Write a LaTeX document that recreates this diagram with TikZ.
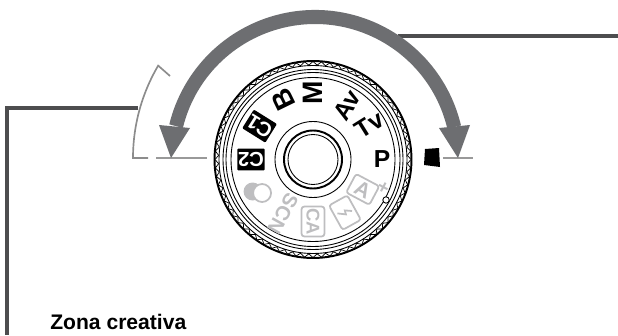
\documentclass[tikz,border=0pt]{standalone}
\usepackage{fontspec}
\setmainfont{Liberation Sans}
\definecolor{arrowgray}{RGB}{109,110,113}
\definecolor{leadgray}{RGB}{77,77,79}
\definecolor{palegray}{RGB}{190,190,192}
\tikzset{
  leadline/.style={line width=1.9pt, leadgray},
  markline/.style={line width=0.7pt, gray!80},
  dialtext/.style={inner sep=0pt, font=\fontsize{14}{14}\bfseries},
  dialkey/.style={fill=black, text=white, rounded corners=0.6pt, inner sep=0pt, minimum width=15.5pt, minimum height=12.5pt, font=\fontsize{11.5}{11.5}\bfseries},
  autotext/.style={inner sep=0pt, text=palegray, font=\fontsize{11.5}{11.5}\bfseries},
  autobox/.style={draw=palegray, line width=1pt, rounded corners=1.5pt}
}

\begin{document}
\begin{tikzpicture}[x=0.02cm, y=0.02cm]
    \useasboundingbox (0,0) rectangle (618,335);

    % Draw the two leader lines
    \coordinate (leftend) at (138,227);
    \coordinate (leftcorner) at (7,227);
    \coordinate (leftfoot) at (7,0);
    \coordinate (rightstart) at (398,299);
    \coordinate (rightend) at (618,299);
    \draw[leadline] (leftend) -- (leftcorner) -- (leftfoot);
    \draw[leadline] (rightstart) -- (rightend);

    % Add bracket on the left of the arrow
    \draw[line width=0.95pt, gray!90] (148,177) -- (133,177) arc[start angle=180, end angle=149.5, radius=182] -- (170,259);
    % Add the short marks under the arrow tips
    \draw[markline] (156,177) -- (207,177);
    \draw[markline] (443,177) -- (473,177);

    % Draw the big double arrow
    \draw[line width=8pt, arrowgray] (315,175) ++(13.3:143) arc[start angle=13.3, end angle=166.3, radius=143];
    \fill[arrowgray] (171,177) -- (159,210) -- (190,207) -- cycle;
    \fill[arrowgray] (458,177) -- (439,207) -- (470,210) -- cycle;

    % Add the black square
    \fill[black] (425,186) -- (439,187) -- (440,168) -- (424,170) -- cycle;

    % Add label at the bottom
    \node[anchor=base west, inner sep=0pt, font=\fontsize{12}{14}\bfseries] (zona) at (50,6) {Zona creativa};

    \begin{scope}[shift={(313,175.5)}]
      % Draw the outer rings of the dial
      \draw[line width=1.1pt] (0,0) circle (98.5);
      \draw[line width=0.5pt] (0,0) circle (94);
      \draw[line width=0.5pt] (0,0) circle (90);
      \draw[line width=0.5pt] (0,0) circle (87);
      \draw[line width=0.5pt] (0,0) circle (82);
      % Add the knurled edge
      \foreach \a in {0,5,...,355} {
        \draw[line width=0.4pt] (\a:98) -- (\a+2.5:94.5) -- (\a+5:98);
      }
      % Draw the centre button
      \draw[line width=0.5pt] (0,0) circle (38);
      \draw[line width=1.1pt] (0,0) circle (29);
      \draw[line width=0.5pt] (0,0) circle (25);

      % Add the creative zone labels
      \foreach \lab/\ang/\rad in {P/0/69, Tv/32/66, Av/58/64} {
        \node[dialtext, rotate=\ang] (mode\lab) at (\ang:\rad) {\lab};
      }
      \node[dialtext, rotate=90, font=\fontsize{16}{16}\bfseries] (modeM) at (90:67) {M};
      \node[dialtext, rotate=116, font=\fontsize{16}{16}\bfseries] (modeB) at (116:67) {B};
      \node[dialkey, rotate=148] (modeCone) at (148:63) {C1};
      \node[dialkey, rotate=180] (modeCtwo) at (180:62) {C2};

      % Add the pale labels of the basic zone
      \fill[palegray] (210:64) ++(-5,0) circle (9);
      \draw[palegray, fill=white, line width=1pt] (210:64) ++(4.5,-1.5) circle (9);
      \node[autotext, rotate=241] (modeScn) at (241:62) {SCN};
      \node[autotext, autobox, rotate=270, minimum width=17pt, minimum height=13pt, font=\fontsize{10.5}{10.5}\bfseries] (modeCa) at (270:62) {CA};

      % Draw the flash-off icon
      \begin{scope}[shift={(301:62)}, rotate=299]
        \draw[autobox] (-14,-10.5) rectangle (14,10.5);
        \draw[palegray, line width=1pt] (2,7) -- (-2,1) -- (2,0) -- (-3,-7);
      \end{scope}

      % Add the auto label and its plus sign
      \node[autotext, autobox, rotate=332, minimum width=15pt, minimum height=12pt, font=\fontsize{12}{12}\bfseries] (modeAuto) at (329:58) {A};
      \node[autotext, rotate=332, font=\fontsize{11}{11}\bfseries] (plus) at (338:75.5) {+};
      \draw[black, fill=white, line width=0.5pt] (-29:83.5) circle (3.2);
    \end{scope}
\end{tikzpicture}
\end{document}
